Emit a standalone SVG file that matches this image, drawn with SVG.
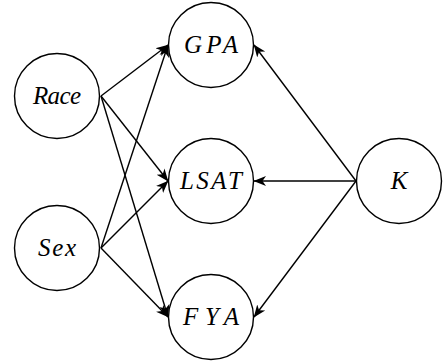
<svg xmlns="http://www.w3.org/2000/svg" width="446" height="362" viewBox="0 0 446 362">
  <defs>
    <marker id="arr" markerWidth="14" markerHeight="12" refX="12" refY="6" orient="auto" markerUnits="userSpaceOnUse">
      <path d="M0,1 L12.5,6 L0,11 L3.5,6 Z" fill="#000"/>
    </marker>
    <style>
      .node circle { fill: #fff; stroke: #000; stroke-width: 1.4; }
      .node text { font-family: "Liberation Serif", "DejaVu Serif", serif; font-style: italic; font-size: 25px; fill: #000; text-anchor: middle; }
      .edges line { stroke: #000; stroke-width: 1.4; marker-end: url(#arr); }
    </style>
  </defs>
  <g class="edges" id="edges">
    <line x1="101" y1="96" x2="168" y2="45"/>
    <line x1="101" y1="96" x2="168" y2="181"/>
    <line x1="101" y1="96" x2="168" y2="317"/>
    <line x1="101" y1="248" x2="168" y2="45"/>
    <line x1="101" y1="248" x2="168" y2="181"/>
    <line x1="101" y1="248" x2="168" y2="317"/>
    <line x1="356" y1="181" x2="254" y2="45"/>
    <line x1="356" y1="181" x2="254" y2="181"/>
    <line x1="356" y1="181" x2="254" y2="317"/>
  </g>
  <g class="node" id="race">
    <circle cx="57" cy="96" r="42.5"/>
    <text x="57" y="104" textLength="48" lengthAdjust="spacing">Race</text>
  </g>
  <g class="node" id="sex">
    <circle cx="57" cy="248" r="42.5"/>
    <text x="57" y="256" textLength="38" lengthAdjust="spacing">Sex</text>
  </g>
  <g class="node" id="gpa">
    <circle cx="211" cy="45" r="42.5"/>
    <text x="211" y="53" textLength="54" lengthAdjust="spacing">GPA</text>
  </g>
  <g class="node" id="lsat">
    <circle cx="211" cy="181" r="42.5"/>
    <text x="211" y="189" textLength="62" lengthAdjust="spacing">LSAT</text>
  </g>
  <g class="node" id="fya">
    <circle cx="211" cy="317" r="42.5"/>
    <text x="211" y="325" textLength="56" lengthAdjust="spacing">FYA</text>
  </g>
  <g class="node" id="k">
    <circle cx="399" cy="181" r="42.5"/>
    <text x="399" y="189">K</text>
  </g>
</svg>
